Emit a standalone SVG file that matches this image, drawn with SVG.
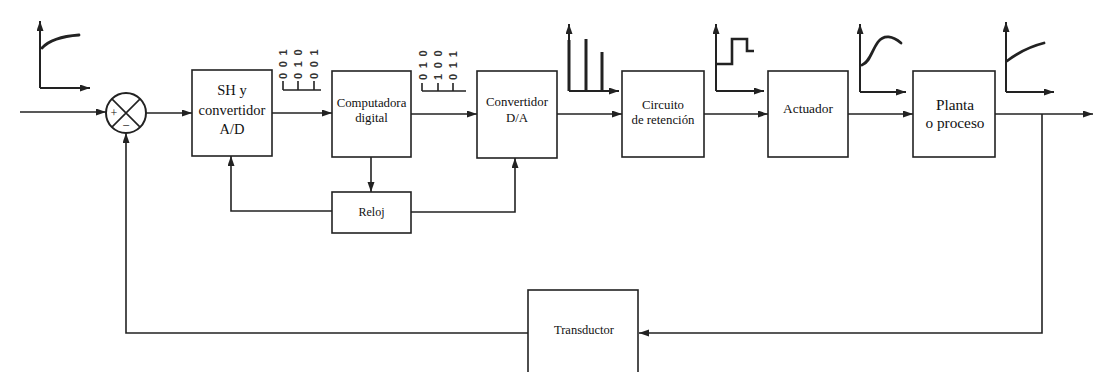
<svg xmlns="http://www.w3.org/2000/svg" width="1094" height="372" viewBox="0 0 1094 372">
<style>
.box{fill:#fff;stroke:#222;stroke-width:1.6}
.ln{fill:none;stroke:#222;stroke-width:1.6}
.ax{fill:none;stroke:#222;stroke-width:2}
.cv{fill:none;stroke:#222;stroke-width:2.8;stroke-linecap:round}
.t{font-family:"Liberation Serif",serif;fill:#111;text-anchor:middle}
.bin{font-family:"Liberation Sans",sans-serif;font-size:11px;font-weight:bold;fill:#333;letter-spacing:5.6px}
</style>
<defs>
<marker id="ah" markerUnits="userSpaceOnUse" markerWidth="11" markerHeight="8" refX="10" refY="3.5" orient="auto">
<path d="M0,0 L10,3.5 L0,7 z" fill="#222"/>
</marker>
</defs>
<rect width="1094" height="372" fill="#fff"/>

<g id="connectors">
<path class="ln" d="M20,112 H106" marker-end="url(#ah)"/>
<path class="ln" d="M146,113 H192" marker-end="url(#ah)"/>
<path class="ln" d="M272,113 H332" marker-end="url(#ah)"/>
<path class="ln" d="M411,114 H477" marker-end="url(#ah)"/>
<path class="ln" d="M557,114 H622" marker-end="url(#ah)"/>
<path class="ln" d="M704,114 H768" marker-end="url(#ah)"/>
<path class="ln" d="M848,114 H913" marker-end="url(#ah)"/>
<path class="ln" d="M995,114 H1093" marker-end="url(#ah)"/>
<path class="ln" d="M1042,114 V333 H639" marker-end="url(#ah)"/>
<path class="ln" d="M528,333 H126 V133" marker-end="url(#ah)"/>
<path class="ln" d="M371,157 V192" marker-end="url(#ah)"/>
<path class="ln" d="M332,211 H231 V156" marker-end="url(#ah)"/>
<path class="ln" d="M411,212 H515 V158" marker-end="url(#ah)"/>
</g>

<g id="sum">
<circle cx="126" cy="113" r="20" fill="#fff" stroke="#222" stroke-width="2"/>
<path class="ln" d="M111.9,98.9 L140.1,127.1 M140.1,98.9 L111.9,127.1"/>
<text class="t" x="114" y="117" font-size="12">+</text>
<text class="t" x="126" y="130" font-size="13">−</text>
</g>

<g id="sh">
<rect class="box" x="192" y="70" width="80" height="86"/>
<text class="t" x="232" y="95" font-size="14.5">SH y</text>
<text class="t" x="232" y="115" font-size="14.5">convertidor</text>
<text class="t" x="232" y="134" font-size="14.5">A/D</text>
</g>

<g id="computadora">
<rect class="box" x="332" y="71" width="79" height="86"/>
<text class="t" x="371.5" y="107" font-size="12.8">Computadora</text>
<text class="t" x="371.5" y="122" font-size="12.8">digital</text>
</g>

<g id="da">
<rect class="box" x="477" y="71" width="80" height="87"/>
<text class="t" x="517" y="106" font-size="12.8">Convertidor</text>
<text class="t" x="517" y="122" font-size="12.8">D/A</text>
</g>

<g id="circuito">
<rect class="box" x="622" y="71" width="82" height="86"/>
<text class="t" x="663" y="109" font-size="12.8">Circuito</text>
<text class="t" x="663" y="124" font-size="12.8">de retención</text>
</g>

<g id="actuador">
<rect class="box" x="768" y="71" width="80" height="86"/>
<text class="t" x="808" y="113" font-size="13.4">Actuador</text>
</g>

<g id="planta">
<rect class="box" x="913" y="71" width="82" height="86"/>
<text class="t" x="955" y="110" font-size="15.3">Planta</text>
<text class="t" x="955" y="128" font-size="15.3">o proceso</text>
</g>

<g id="reloj">
<rect class="box" x="332" y="192" width="79" height="41"/>
<text class="t" x="371.5" y="216" font-size="12">Reloj</text>
</g>

<g id="transductor">
<rect class="box" x="528" y="290" width="110" height="100"/>
<text class="t" x="584" y="334" font-size="12.5">Transductor</text>
</g>

<g id="signals">
<path class="ax" d="M40,88 V21" marker-end="url(#ah)"/>
<path class="ax" d="M40,88 H90" marker-end="url(#ah)"/>
<path class="cv" d="M42,48 Q52,37 79,35"/>
<path class="ln" d="M283,81 V90 M298,81 V90 M314,81 V90 M283,90 H321"/>
<text class="bin" transform="rotate(-90 286.5 79)" x="286.5" y="79">001</text>
<text class="bin" transform="rotate(-90 302 79)" x="302" y="79">010</text>
<text class="bin" transform="rotate(-90 317.5 79)" x="317.5" y="79">001</text>
<path class="ln" d="M422,83 V91 M438,83 V91 M453,83 V91 M422,91 H466"/>
<text class="bin" transform="rotate(-90 426.5 80)" x="426.5" y="80">010</text>
<text class="bin" transform="rotate(-90 442 80)" x="442" y="80">100</text>
<text class="bin" transform="rotate(-90 457 80)" x="457" y="80">011</text>
<path class="ax" d="M569,91 V24" marker-end="url(#ah)"/>
<path class="ax" d="M569,91 H619" marker-end="url(#ah)"/>
<path d="M569,91 V40 M586,91 V39 M602,91 V52" fill="none" stroke="#222" stroke-width="3"/>
<path class="ax" d="M716,91 V24" marker-end="url(#ah)"/>
<path class="ax" d="M716,91 H764" marker-end="url(#ah)"/>
<path d="M716,64 H732 V39 H747 V51 H754" fill="none" stroke="#222" stroke-width="2.6"/>
<path class="ax" d="M860,92 V24" marker-end="url(#ah)"/>
<path class="ax" d="M860,92 H906" marker-end="url(#ah)"/>
<path class="cv" d="M862,65 C870,62 872,50 878,42 C884,34 893,36 901,43"/>
<path class="ax" d="M1006,92 V22" marker-end="url(#ah)"/>
<path class="ax" d="M1006,92 H1054" marker-end="url(#ah)"/>
<path class="cv" d="M1007,61 Q1024,48 1044,43"/>
</g>
</svg>
